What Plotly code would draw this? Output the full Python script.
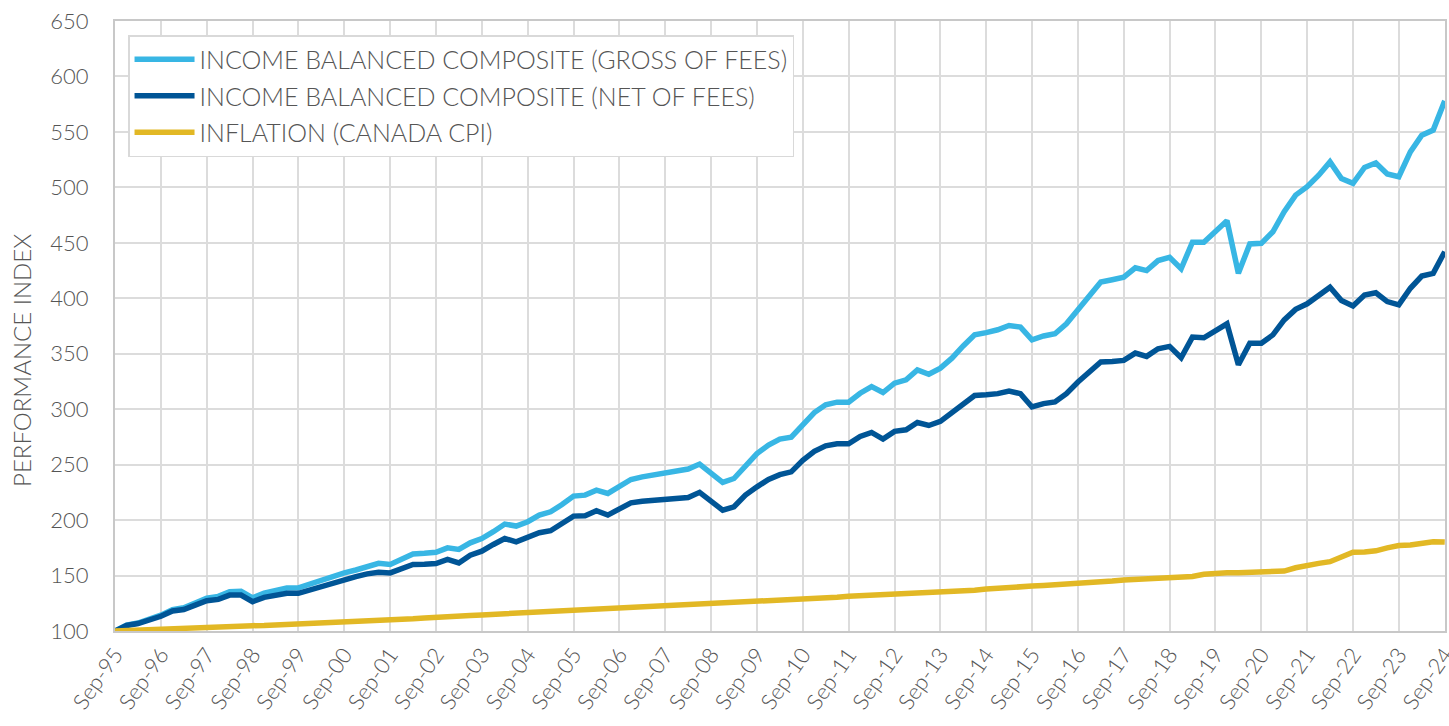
import pandas as pd
import plotly.graph_objects as go

# Quarterly dates Sep-1995 .. Sep-2024
dates = pd.date_range("1995-09-30", periods=117, freq="QE")

gross = [
    100, 105.3, 107.2, 110.4, 114.3, 119.3, 121, 125.3, 129.7, 131.2,
    135.5, 135.8, 129.9, 134.2, 136.3, 138.7, 139, 142.5, 146.5, 150,
    152.4, 155, 158, 161, 160, 165, 169.5, 170, 171, 175,
    173.5, 179.5, 183.4, 189.5, 196.4, 194.6, 198.5, 204.5, 207.5, 214,
    221.6, 222.5, 227, 224, 231, 236.6, 239, 240.5, 242, 244,
    246, 250.5, 242, 234, 237.5, 249.5, 260, 267.6, 273, 274.8,
    286, 297, 304, 306.3, 306.3, 314.4, 320.4, 315, 323.4, 326.4,
    335.4, 331.5, 337, 346, 357, 367, 369, 371.6, 375.5, 374,
    362.6, 366, 368, 377, 389.6, 402.5, 414.6, 416.7, 419, 427.5,
    425, 434, 437, 426.6, 450.6, 450.6, 460, 470, 422.5, 449,
    449.5, 460, 478, 493, 500.6, 511, 523, 508, 503.6, 518,
    522, 512, 509.6, 532, 547, 551.6, 578,
]

net = [
    100, 105, 106.7, 109.7, 113.3, 118, 119.4, 123.3, 127.3, 128.5,
    132.4, 132.4, 126.4, 130.3, 132, 134, 134, 137, 140.5, 144,
    146.4, 149, 151.5, 153, 152.4, 156.3, 160, 160.2, 160.8, 164.5,
    161.4, 168.4, 172, 178, 183.4, 180.4, 184.3, 188.6, 190.4, 197.6,
    203.6, 204, 208.4, 204.5, 210.5, 215.6, 217, 217.7, 218, 219.2,
    220.4, 225, 216.5, 209, 212, 222.5, 230, 236.6, 241, 243.5,
    254, 262, 267, 268.8, 268.8, 275.4, 279, 273, 280, 281.4,
    288, 285.3, 289, 296.4, 304.8, 312.3, 313, 314, 316.4, 314,
    302, 305, 306.5, 314, 324.5, 333.5, 342.5, 343, 344, 350.6,
    347.6, 354.5, 356.6, 346.4, 365, 364.4, 371, 377, 340, 359.5,
    359.5, 367, 380.5, 390, 395, 403, 410, 398, 393, 403,
    405, 397, 394, 409, 420, 422.5, 442,
]

cpi = [
    100, 100.5, 101, 101.5, 102, 102.5, 103, 103.3, 103.6, 103.8,
    104, 104.4, 104.8, 105, 105.4, 105.9, 106.5, 106.3, 106.8, 107.2,
    107.5, 107.8, 108.3, 109.2, 110.2, 109.6, 111, 111.8, 112.6, 112.5,
    113.8, 114, 114.5, 115, 115.3, 115.8, 116.3, 116.6, 117.2, 117.6,
    118, 118.5, 119, 119.5, 120.2, 121, 121.4, 122.2, 122.8, 123.3,
    123, 124, 125, 125.6, 125.6, 126, 126.5, 127, 127.5, 128,
    128.5, 128.8, 129.5, 130.5, 131.3, 131.8, 132, 132.5, 133, 133.5,
    133.3, 134.5, 134.8, 135.3, 135.5, 136.8, 137.8, 138.2, 138.5, 139.8,
    140.5, 141, 141.5, 142.8, 143.5, 143.7, 143.3, 145, 146, 146.5,
    146.8, 148.2, 149, 149.3, 149.2, 151.2, 152.2, 152.5, 152.6, 153,
    153.5, 153.3, 154, 157, 159.5, 161, 162.5, 166.5, 171, 171.3,
    172.3, 175, 177, 177.5, 179, 180.5, 180.2,
]

tick_labels = ["Sep-%02d" % (y % 100) for y in range(1995, 2025)]
tick_dates = [dates[i] for i in range(0, 117, 4)]

series_names = [
    "INCOME BALANCED COMPOSITE (GROSS OF FEES)",
    "INCOME BALANCED COMPOSITE (NET OF FEES)",
    "INFLATION (CANADA CPI)",
]
colors = ["#38B6E4", "#005596", "#E2B825"]

FONT = "Lato"
GREY = "#555555"

fig = go.Figure()
for k, (name, vals, col) in enumerate(zip(series_names, [gross, net, cpi], colors)):
    fig.add_trace(go.Scatter(
        x=dates, y=vals, name=name, mode="lines",
        line=dict(color=col, width=5.5), legendgroup="g%d" % k,
    ))

fig.update_layout(
    width=1449, height=726,
    margin=dict(l=115, r=2, t=21, b=95),
    plot_bgcolor="white", paper_bgcolor="white",
    font=dict(family=FONT, color=GREY, weight=300),
    showlegend=True,
    legend=dict(
        x=0.0098, y=0.977, xanchor="left", yanchor="top",
        bgcolor="white", bordercolor="#d9d9d9", borderwidth=1.5,
        font=dict(family=FONT, size=25, color=GREY, weight=300),
        tracegroupgap=1, itemwidth=60,
    ),
    xaxis=dict(
        range=[dates[0], pd.Timestamp("2024-10-02")],
        tickvals=tick_dates, ticktext=tick_labels,
        tickangle=-55, tickfont=dict(size=22, color=GREY, weight=300),
        ticklabeloverflow="allow",
        showgrid=True, gridcolor="#dcdcdc", gridwidth=2,
        showline=True, linecolor="#c8c8c8", linewidth=2, mirror=True,
        zeroline=False, ticks="", automargin=False,
    ),
    yaxis=dict(
        range=[100, 650], dtick=50,
        tickfont=dict(size=22, color=GREY, weight=300),
        showgrid=True, gridcolor="#dcdcdc", gridwidth=2,
        showline=True, linecolor="#c8c8c8", linewidth=2, mirror=True,
        zeroline=False, ticks="", ticklabelstandoff=20,
    ),
    annotations=[dict(
        text="PERFORMANCE INDEX", textangle=-90,
        xref="paper", yref="paper", x=-0.0698, y=0.443,
        xanchor="center", yanchor="middle", showarrow=False,
        font=dict(family=FONT, size=24, color=GREY, weight=300),
    )],
)

fig.write_html(
    "out.html",
    config={"displayModeBar": False},
    post_script="document.body.style.margin='0';document.body.style.overflow='hidden';",
)
